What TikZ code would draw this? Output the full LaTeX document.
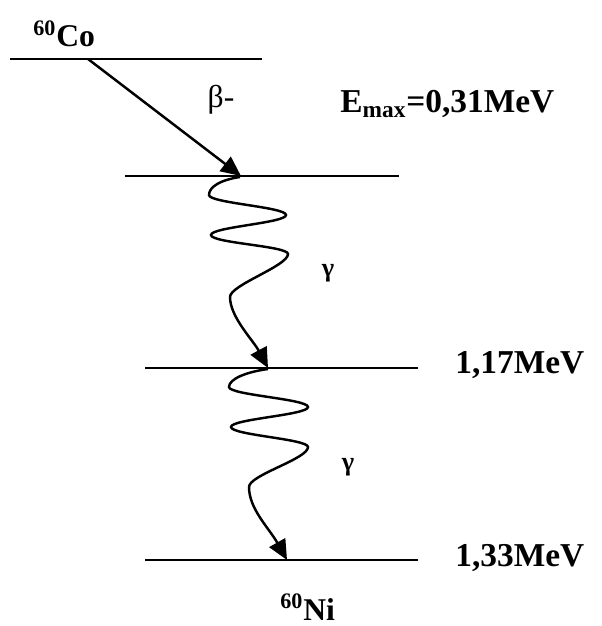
\documentclass[tikz,border=0pt]{standalone}
\usepackage{fontspec}
\setmainfont{Liberation Serif}
\usetikzlibrary{arrows.meta}

\begin{document}
\begin{tikzpicture}[
    x=0.2mm, y=-0.2mm,
    level/.style={line width=1.3pt},
    arr/.style={-{Triangle[length=4mm, width=3.6mm]}, line width=1.4pt},
    big/.style={font=\bfseries\fontsize{19}{22}\selectfont, inner sep=0pt, anchor=base west},
    nuc/.style={big, font=\bfseries\fontsize{18}{20}\selectfont},
    gam/.style={font=\bfseries\fontsize{15}{17}\selectfont, inner sep=0pt},
  ]
    \useasboundingbox (0,0) rectangle (601,626);

    % energy levels
    \draw[level] (10,59) -- (262,59);
    \draw[level] (125,176) -- (399,176);
    \draw[level] (145,368) -- (418,368);
    \draw[level] (145,560) -- (418,560);

    % labels
    \node[nuc] (co) at (33,47) {\textsuperscript{60}Co};
    \node[font=\fontsize{18}{20}\selectfont, inner sep=0pt] (beta) at (221,100) {β-};
    \node[big] (emax) at (340,113) {E\textsubscript{max}=0,31MeV};
    \node[big] (e1) at (455,373) {1,17MeV};
    \node[big] (e2) at (455,566) {1,33MeV};
    \node[nuc] (ni) at (280,620) {\textsuperscript{60}Ni};
    \node[gam] (gam1) at (328,273) {γ};
    \node[gam] (gam2) at (348,467) {γ};

    % beta decay
    \coordinate (bs) at (88,59);
    \coordinate (be) at (241,176);
    \draw[arr] (bs) -- (be);

    % first gamma
    \coordinate (gas) at (240,177);
    \coordinate (ga1) at (209,195);
    \coordinate (ga2) at (286,215);
    \coordinate (ga3) at (211,235);
    \coordinate (ga4) at (288,254);
    \coordinate (ga5) at (230,297);
    \coordinate (gae) at (268,368);
    \draw[arr] (gas) .. controls +(-20,3) and +(0,-8) .. (ga1)
      .. controls +(0,8) and +(0,-8) .. (ga2)
      .. controls +(0,8) and +(0,-8) .. (ga3)
      .. controls +(0,8) and +(0,-8) .. (ga4)
      .. controls +(0,12) and +(0,-12) .. (ga5)
      .. controls +(0,20) and +(-15,-28) .. (gae);

    % second gamma
    \coordinate (gbs) at (268,369);
    \coordinate (gb1) at (229,387);
    \coordinate (gb2) at (308,407);
    \coordinate (gb3) at (231,427);
    \coordinate (gb4) at (308,447);
    \coordinate (gb5) at (249,487);
    \coordinate (gbe) at (287,560);
    \draw[arr] (gbs) .. controls +(-22,3) and +(0,-8) .. (gb1)
      .. controls +(0,8) and +(0,-8) .. (gb2)
      .. controls +(0,8) and +(0,-8) .. (gb3)
      .. controls +(0,8) and +(0,-8) .. (gb4)
      .. controls +(0,12) and +(0,-12) .. (gb5)
      .. controls +(0,22) and +(-18,-32) .. (gbe);
\end{tikzpicture}
\end{document}
